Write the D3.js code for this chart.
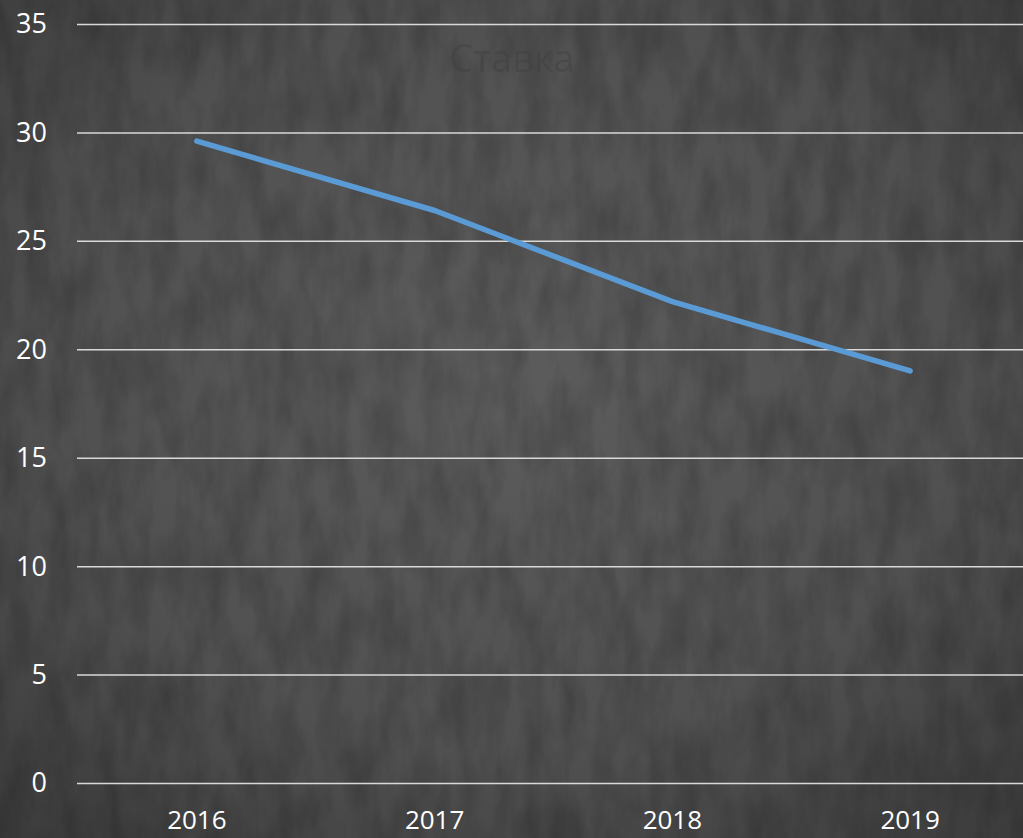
<!DOCTYPE html>
<html>
<head>
<meta charset="utf-8">
<script src="https://cdn.jsdelivr.net/npm/d3@7"></script>
<style>
  html, body { margin: 0; padding: 0; background: #444; }
  svg { display: block; }
</style>
</head>
<body>
<div id="chart"></div>
<script>
// data
var years = ["2016", "2017", "2018", "2019"];
var values = [29.6, 26.4, 22.2, 19.0];
var yTicks = [0, 5, 10, 15, 20, 25, 30, 35];
var title = "Ставка";

var width = 1023, height = 838;

var svg = d3.select("#chart").append("svg")
    .attr("width", width)
    .attr("height", height);

var defs = svg.append("defs");

// concrete-ish background
var grad = defs.append("radialGradient")
    .attr("id", "vign")
    .attr("cx", "50%").attr("cy", "45%").attr("r", "75%");
grad.append("stop").attr("offset", "0%").attr("stop-color", "#5c5c5c");
grad.append("stop").attr("offset", "60%").attr("stop-color", "#505050");
grad.append("stop").attr("offset", "100%").attr("stop-color", "#3a3a3a");

var noise = defs.append("filter").attr("id", "noise")
    .attr("x", 0).attr("y", 0).attr("width", "100%").attr("height", "100%");
noise.append("feTurbulence")
    .attr("type", "fractalNoise")
    .attr("baseFrequency", "0.04 0.015")
    .attr("numOctaves", 4)
    .attr("seed", 7);
noise.append("feColorMatrix")
    .attr("type", "matrix")
    .attr("values", "0 0 0 0 0  0 0 0 0 0  0 0 0 0 0  0 0 0 -1.1 0.75");

svg.append("rect")
    .attr("width", width).attr("height", height)
    .attr("fill", "url(#vign)");
svg.append("rect")
    .attr("width", width).attr("height", height)
    .attr("fill", "#000")
    .attr("filter", "url(#noise)")
    .attr("opacity", 0.3);

// scales
var x = d3.scalePoint()
    .domain(years)
    .range([78, 1029])
    .padding(0.5);

var y = d3.scaleLinear()
    .domain([0, 35])
    .range([783, 24]);

// faint title (almost hidden in the texture)
svg.append("text")
    .attr("x", 512)
    .attr("y", 72)
    .attr("text-anchor", "middle")
    .attr("font-family", "Open Sans, sans-serif")
    .attr("font-size", "38px")
    .attr("fill", "#3e3e3e")
    .attr("opacity", 0.4)
    .text(title);

// gridlines
svg.append("g")
    .attr("transform", "translate(77,0)")
    .call(d3.axisLeft(y).tickValues(yTicks).tickSize(-(width - 77)).tickFormat(""))
    .call(function(g) { g.select(".domain").remove(); })
    .selectAll("line")
    .attr("stroke", "#d9d9d9")
    .attr("stroke-width", 1.5);

// y labels
svg.append("g")
    .selectAll("text")
    .data(yTicks)
    .enter()
    .append("text")
    .attr("x", 47)
    .attr("y", function(d) { return y(d); })
    .attr("dy", "0.35em")
    .attr("text-anchor", "end")
    .attr("font-family", "Open Sans, sans-serif")
    .attr("font-size", "27px")
    .attr("fill", "#ffffff")
    .text(function(d) { return d; });

// x labels
svg.append("g")
    .selectAll("text")
    .data(years)
    .enter()
    .append("text")
    .attr("x", function(d) { return x(d); })
    .attr("y", 829)
    .attr("text-anchor", "middle")
    .attr("font-family", "Open Sans, sans-serif")
    .attr("font-size", "26px")
    .attr("fill", "#ffffff")
    .text(function(d) { return d; });

// line
var line = d3.line()
    .x(function(d, i) { return x(years[i]); })
    .y(function(d) { return y(d); });

svg.append("path")
    .datum(values)
    .attr("d", line)
    .attr("fill", "none")
    .attr("stroke", "#5b9bd5")
    .attr("stroke-width", 5.5)
    .attr("stroke-linecap", "round")
    .attr("stroke-linejoin", "round");
</script>
</body>
</html>
